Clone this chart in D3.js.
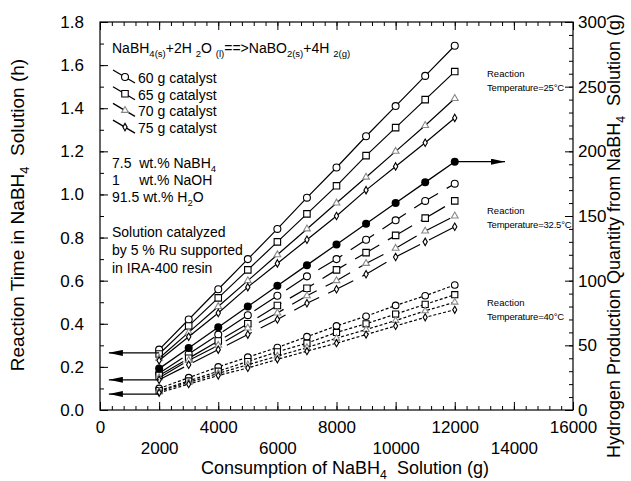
<!DOCTYPE html>
<html>
<head>
<meta charset="utf-8">
<script src="https://cdn.jsdelivr.net/npm/d3@7"></script>
<style>
body { margin: 0; background: #fff; }
text { font-family: "Liberation Sans", Arial, sans-serif; fill: #000; }
</style>
</head>
<body>
<script>
// solution consumed (g) at each measurement
var solution = [2000, 3000, 4000, 5000, 6000, 7000, 8000, 9000, 10000, 11000, 12000];

// reaction time (h), 25 C
var t25_60 = [0.28, 0.42, 0.56, 0.70, 0.84, 0.985, 1.125, 1.27, 1.41, 1.55, 1.69];
var t25_65 = [0.26, 0.39, 0.52, 0.65, 0.78, 0.91, 1.04, 1.18, 1.31, 1.44, 1.57];
var t25_70 = [0.24, 0.36, 0.48, 0.60, 0.72, 0.84, 0.96, 1.08, 1.20, 1.32, 1.445];
var t25_75 = [0.23, 0.34, 0.45, 0.57, 0.68, 0.79, 0.90, 1.02, 1.13, 1.24, 1.355];
// 32.5 C
var t325_60 = [0.17, 0.26, 0.35, 0.44, 0.53, 0.62, 0.70, 0.79, 0.88, 0.97, 1.05];
var t325_65 = [0.16, 0.24, 0.32, 0.40, 0.485, 0.565, 0.65, 0.73, 0.81, 0.89, 0.97];
var t325_70 = [0.15, 0.23, 0.30, 0.38, 0.45, 0.53, 0.60, 0.68, 0.75, 0.83, 0.90];
var t325_75 = [0.14, 0.21, 0.28, 0.35, 0.42, 0.495, 0.56, 0.63, 0.71, 0.78, 0.85];
// 40 C
var t40_60 = [0.10, 0.15, 0.20, 0.245, 0.29, 0.34, 0.39, 0.435, 0.485, 0.53, 0.58];
var t40_65 = [0.09, 0.135, 0.18, 0.225, 0.27, 0.31, 0.36, 0.40, 0.445, 0.49, 0.535];
var t40_70 = [0.087, 0.128, 0.17, 0.21, 0.25, 0.29, 0.333, 0.373, 0.415, 0.46, 0.50];
var t40_75 = [0.08, 0.12, 0.16, 0.195, 0.235, 0.273, 0.31, 0.35, 0.39, 0.43, 0.465];

// hydrogen produced (g), right axis
var h2Prod = [32, 48, 64, 80, 96, 112, 128, 144, 160, 176, 192];

var xMajor = [0, 2000, 4000, 6000, 8000, 10000, 12000, 14000, 16000];
var yLeftTicks = [0, 0.2, 0.4, 0.6, 0.8, 1.0, 1.2, 1.4, 1.6, 1.8];
var yRightTicks = [0, 50, 100, 150, 200, 250, 300];
var catalysts = ["60 g catalyst", "65 g catalyst", "70 g catalyst", "75 g catalyst"];
var leftArrowLevels = [0.265, 0.14, 0.074];

var width = 631, height = 481;
var margin = {top: 22, right: 58, bottom: 71, left: 100};

var svg = d3.select("body").append("svg")
    .attr("width", width)
    .attr("height", height);

var x = d3.scaleLinear().domain([0, 16000]).range([margin.left, width - margin.right]);
var y = d3.scaleLinear().domain([0, 1.8]).range([height - margin.bottom, margin.top]);
var y2 = d3.scaleLinear().domain([0, 300]).range([height - margin.bottom, margin.top]);

function styleAxis(g) {
    g.select(".domain").remove();
    g.selectAll("line").attr("stroke", "#000").attr("stroke-width", 1);
    g.attr("font-size", 17).attr("font-family", "'Liberation Sans', Arial, sans-serif");
}

// bottom
svg.append("g").attr("transform", "translate(0," + y(0) + ")")
    .call(d3.axisBottom(x).tickValues(d3.range(0, 16001, 400)).tickSize(-4).tickSizeOuter(0).tickFormat(""))
    .call(styleAxis);
svg.append("g").attr("transform", "translate(0," + y(0) + ")")
    .call(d3.axisBottom(x).tickValues(xMajor).tickSize(-8).tickSizeOuter(0).tickFormat(d3.format("d")))
    .call(styleAxis)
    .selectAll("text").attr("y", function(d, i) { return i % 2 ? 32 : 11; });
// top
svg.append("g").attr("transform", "translate(0," + y(1.8) + ")")
    .call(d3.axisTop(x).tickValues(d3.range(0, 16001, 400)).tickSize(-4).tickSizeOuter(0).tickFormat(""))
    .call(styleAxis);
svg.append("g").attr("transform", "translate(0," + y(1.8) + ")")
    .call(d3.axisTop(x).tickValues(xMajor).tickSize(-8).tickSizeOuter(0).tickFormat(""))
    .call(styleAxis);
// left
svg.append("g").attr("transform", "translate(" + x(0) + ",0)")
    .call(d3.axisLeft(y).tickValues(d3.range(0, 1.81, 0.1)).tickSize(-4).tickSizeOuter(0).tickFormat(""))
    .call(styleAxis);
svg.append("g").attr("transform", "translate(" + x(0) + ",0)")
    .call(d3.axisLeft(y).tickValues(yLeftTicks).tickSize(-8).tickSizeOuter(0).tickPadding(16).tickFormat(d3.format(".1f")))
    .call(styleAxis);
// right
svg.append("g").attr("transform", "translate(" + x(16000) + ",0)")
    .call(d3.axisRight(y2).tickValues(d3.range(0, 301, 10)).tickSize(-4).tickSizeOuter(0).tickFormat(""))
    .call(styleAxis);
svg.append("g").attr("transform", "translate(" + x(16000) + ",0)")
    .call(d3.axisRight(y2).tickValues(yRightTicks).tickSize(-8).tickSizeOuter(0).tickPadding(5).tickFormat(d3.format("d")))
    .call(styleAxis);

// frame
svg.append("rect")
    .attr("x", x(0)).attr("y", y(1.8))
    .attr("width", x(16000) - x(0)).attr("height", y(0) - y(1.8))
    .attr("fill", "none").attr("stroke", "#000").attr("stroke-width", 1.2);

// arrowhead
svg.append("defs").append("marker")
    .attr("id", "arrow")
    .attr("viewBox", "0 0 14 6")
    .attr("refX", 14).attr("refY", 3)
    .attr("markerWidth", 14).attr("markerHeight", 6)
    .attr("markerUnits", "userSpaceOnUse")
    .attr("orient", "auto")
    .append("path").attr("d", "M0,0L14,3L0,6Z").attr("fill", "#000");

var symbols = [
    {type: d3.symbolCircle, size: 38, stroke: "#000"},
    {type: d3.symbolSquare, size: 42, stroke: "#000"},
    {type: d3.symbolTriangle, size: 20, stroke: "#888"},
    {type: d3.symbolDiamond, size: 16, stroke: "#000"}
];

var groups = [
    {sets: [t25_60, t25_65, t25_70, t25_75], dash: null, scale: 1},
    {sets: [t325_60, t325_65, t325_70, t325_75], dash: "28,10", scale: 1},
    {sets: [t40_60, t40_65, t40_70, t40_75], dash: "3,2", scale: 0.9}
];

var line = d3.line()
    .x(function(d) { return x(d[0]); })
    .y(function(d) { return d[1]; });

var plot = svg.append("g");

groups.forEach(function(grp) {
    grp.sets.forEach(function(vals, k) {
        var pts = solution.map(function(s, i) { return [s, y(vals[i])]; });
        plot.append("path")
            .attr("d", line(pts))
            .attr("fill", "none")
            .attr("stroke", "#000")
            .attr("stroke-width", 1.2)
            .attr("stroke-dasharray", grp.dash);
        var sym = symbols[k];
        plot.selectAll(null)
            .data(pts)
            .enter()
            .append("path")
            .attr("transform", function(d) { return "translate(" + x(d[0]) + "," + d[1] + ")"; })
            .attr("d", d3.symbol().type(sym.type).size(sym.size * grp.scale))
            .attr("fill", "#fff")
            .attr("stroke", sym.stroke)
            .attr("stroke-width", 1.1);
    });
});

// hydrogen production (right axis)
var h2pts = solution.map(function(s, i) { return [s, y2(h2Prod[i])]; });
plot.append("path")
    .attr("d", line(h2pts))
    .attr("fill", "none").attr("stroke", "#000").attr("stroke-width", 1.3);
plot.selectAll(null)
    .data(h2pts)
    .enter()
    .append("circle")
    .attr("cx", function(d) { return x(d[0]); })
    .attr("cy", function(d) { return d[1]; })
    .attr("r", 4)
    .attr("fill", "#000");

// arrows
leftArrowLevels.forEach(function(v) {
    plot.append("line")
        .attr("x1", x(2000)).attr("y1", y(v))
        .attr("x2", x(300)).attr("y2", y(v))
        .attr("stroke", "#000").attr("stroke-width", 1.3)
        .attr("marker-end", "url(#arrow)");
});
plot.append("line")
    .attr("x1", x(12000)).attr("y1", y2(192))
    .attr("x2", x(13700)).attr("y2", y2(192))
    .attr("stroke", "#000").attr("stroke-width", 1.3)
    .attr("marker-end", "url(#arrow)");

// rich text with subscripts
function richText(g, px, py, size, parts, anchor) {
    var t = g.append("text").attr("x", px).attr("y", py)
        .attr("font-size", size)
        .attr("text-anchor", anchor || "start")
        .attr("xml:space", "preserve");
    var down = false;
    parts.forEach(function(p) {
        var s = t.append("tspan").text(p[0]);
        if (p[1] && !down) { s.attr("dy", size * 0.28).attr("font-size", size * 0.68); down = true; }
        else if (p[1]) { s.attr("font-size", size * 0.68); }
        else if (down) { s.attr("dy", -size * 0.28); down = false; }
    });
    return t;
}

var ann = svg.append("g");
richText(ann, 112, 53, 14, [["NaBH"], ["4(s)", 1], ["+2H "], ["2", 1], ["O "], ["(l)", 1],
    ["==>NaBO"], ["2(s)", 1], ["+4H "], ["2(g)", 1]]);

// legend
catalysts.forEach(function(c, k) {
    var cy = 78 + k * 16.7;
    ann.append("line")
        .attr("x1", 113).attr("y1", cy - 8)
        .attr("x2", 135).attr("y2", cy + 5)
        .attr("stroke", "#000").attr("stroke-width", 1.3);
    ann.append("path")
        .attr("transform", "translate(125," + (cy - 1) + ")")
        .attr("d", d3.symbol().type(symbols[k].type).size(symbols[k].size))
        .attr("fill", "#fff").attr("stroke", symbols[k].stroke).attr("stroke-width", 1.1);
    ann.append("text").attr("x", 138).attr("y", cy + 5).attr("font-size", 14).text(c);
});

richText(ann, 112, 168, 14, [["7.5  wt.% NaBH"], ["4", 1]]);
richText(ann, 112, 185, 14, [["1     wt.% NaOH"]]);
richText(ann, 112, 202, 14, [["91.5 wt.% H"], ["2", 1], ["O"]]);
ann.append("text").attr("x", 112).attr("y", 237).attr("font-size", 14).text("Solution catalyzed");
ann.append("text").attr("x", 112).attr("y", 255).attr("font-size", 14).text("by 5 % Ru supported");
ann.append("text").attr("x", 112).attr("y", 273).attr("font-size", 14).text("in IRA-400 resin");

var tempLabels = [["25", 77], ["32.5", 214], ["40", 306]];
tempLabels.forEach(function(t) {
    ann.append("text").attr("x", 487).attr("y", t[1]).attr("font-size", 9.5).text("Reaction");
    ann.append("text").attr("x", 487).attr("y", t[1] + 14).attr("font-size", 9.5)
        .attr("letter-spacing", -0.2)
        .text("Temperature=" + t[0] + "\u00B0C");
});

// axis titles
richText(svg, 345, 474, 18, [["Consumption of NaBH"], ["4", 1], ["  Solution (g)"]], "middle");
richText(svg.append("g").attr("transform", "translate(24,215) rotate(-90)"), 0, 0, 19,
    [["Reaction Time in NaBH"], ["4", 1], ["  Solution (h)"]], "middle");
richText(svg.append("g").attr("transform", "translate(620,236) rotate(-90)"), 0, 0, 18,
    [["Hydrogen Production Quantity from NaBH"], ["4", 1], ["  Solution (g)"]], "middle");
</script>
</body>
</html>
